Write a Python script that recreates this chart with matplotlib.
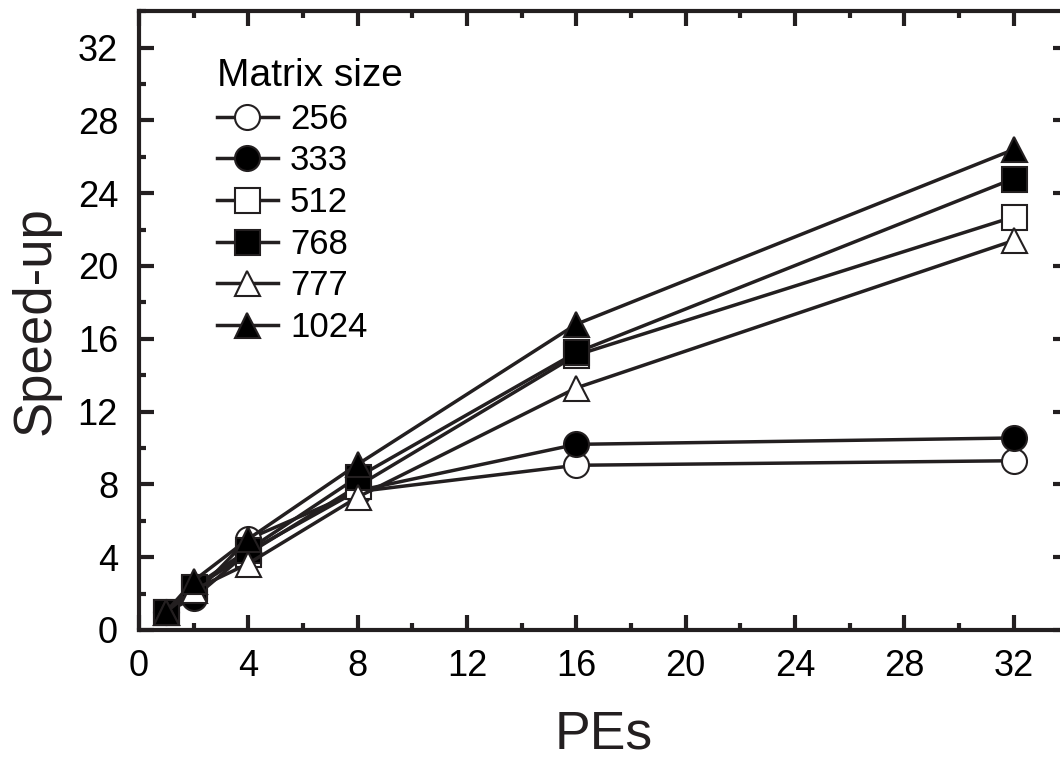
import matplotlib
matplotlib.use('Agg')
import matplotlib.pyplot as plt
from matplotlib.ticker import MultipleLocator

plt.rcParams['font.family'] = ['Liberation Sans', 'DejaVu Sans']

# number of processing elements
pes = [1, 2, 4, 8, 16, 32]

# speed-up per matrix size
sizes = ['256', '333', '512', '768', '777', '1024']
speed_256 = [1.0, 1.9, 5.0, 7.6, 9.05, 9.3]
speed_333 = [1.0, 1.75, 4.3, 7.65, 10.2, 10.55]
speed_512 = [1.0, 2.3, 4.2, 7.9, 15.1, 22.7]
speed_768 = [1.0, 2.35, 4.4, 8.4, 15.25, 24.8]
speed_777 = [1.0, 2.2, 3.65, 7.3, 13.3, 21.4]
speed_1024 = [1.0, 2.7, 5.0, 9.1, 16.8, 26.4]

series = [speed_256, speed_333, speed_512, speed_768, speed_777, speed_1024]
markers = ['o', 'o', 's', 's', '^', '^']
fills = ['white', 'black', 'white', 'black', 'white', 'black']

fig = plt.figure(figsize=(10.6, 7.64), dpi=100)
ax = fig.add_axes([0.131, 0.1754, 0.877, 0.810])

for lab, ys, m, fc in zip(sizes, series, markers, fills):
    ax.plot(pes, ys, color='#231f20', lw=2.5, marker=m, ms=18,
            mfc=fc, mec='#231f20', mew=1.5, label=lab, clip_on=False)

ax.set_xlim(0, 34)
ax.set_ylim(0, 34)
ax.xaxis.set_major_locator(MultipleLocator(4))
ax.xaxis.set_minor_locator(MultipleLocator(2))
ax.yaxis.set_major_locator(MultipleLocator(4))
ax.yaxis.set_minor_locator(MultipleLocator(2))

ax.tick_params(which='major', direction='in', length=11, width=3,
               top=True, right=True, labelsize=26, pad=15, color='#231f20')
ax.tick_params(which='minor', direction='in', length=5, width=3,
               top=True, right=True, color='#231f20')
ax.tick_params(axis='x', which='major', pad=14)
for s in ax.spines.values():
    s.set_linewidth(3)
    s.set_color('#231f20')

ax.set_xlabel('PEs', fontsize=38.5, labelpad=18, color='#231f20')
ax.set_ylabel('Speed-up', fontsize=38, labelpad=12, color='#231f20')

leg = ax.legend(title='Matrix size', loc='upper left', frameon=False,
                fontsize=25, title_fontsize=28, handlelength=1.75,
                handletextpad=0.35, labelspacing=0.25, borderaxespad=0.3,
                alignment='left', bbox_to_anchor=(0.058, 0.9635))

plt.savefig('out.png', dpi=100)
